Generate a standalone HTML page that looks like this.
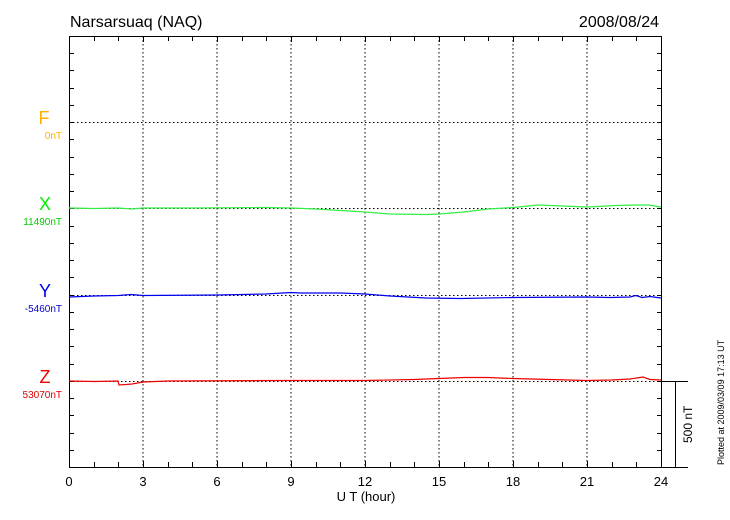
<!DOCTYPE html>
<html><head><meta charset="utf-8"><style>
body{margin:0;background:#fff;}
svg{display:block;font-family:"Liberation Sans",sans-serif;}
</style></head><body>
<svg width="730" height="520" viewBox="0 0 730 520">
<rect width="730" height="520" fill="#fff"/>
<text x="70" y="27" font-size="16">Narsarsuaq (NAQ)</text>
<text x="659" y="27" font-size="16" text-anchor="end">2008/08/24</text>
<g stroke="#000" stroke-width="1" stroke-dasharray="1.5,2.5" fill="none">
<line x1="143" y1="36" x2="143" y2="467"/><line x1="217" y1="36" x2="217" y2="467"/>
<line x1="291" y1="36" x2="291" y2="467"/><line x1="365" y1="36" x2="365" y2="467"/>
<line x1="439" y1="36" x2="439" y2="467"/><line x1="513" y1="36" x2="513" y2="467"/>
<line x1="587" y1="36" x2="587" y2="467"/>
<line x1="69" y1="122.5" x2="662" y2="122.5"/><line x1="69" y1="208.5" x2="662" y2="208.5"/>
<line x1="69" y1="295.5" x2="662" y2="295.5"/><line x1="69" y1="381.5" x2="662" y2="381.5"/>
</g>
<g id="ticks" stroke="#000" stroke-width="1">
<path d="M69.5,36 V467 M661.5,36 V467 M69,467.5 H688 M69,36.5 H662 M662,381.5 H688 M675.5,381 V467"/>
<path d="M69,53.5h5M69,70.5h5M69,88.5h5M69,105.5h5M69,122.5h5M69,139.5h5M69,157.5h5M69,174.5h5M69,191.5h5M69,208.5h5M69,226.5h5M69,243.5h5M69,260.5h5M69,277.5h5M69,295.5h5M69,312.5h5M69,329.5h5M69,346.5h5M69,364.5h5M69,381.5h5M69,398.5h5M69,415.5h5M69,433.5h5M69,450.5h5"/>
<path d="M662,53.5h-5M662,70.5h-5M662,88.5h-5M662,105.5h-5M662,122.5h-5M662,139.5h-5M662,157.5h-5M662,174.5h-5M662,191.5h-5M662,208.5h-5M662,226.5h-5M662,243.5h-5M662,260.5h-5M662,277.5h-5M662,295.5h-5M662,312.5h-5M662,329.5h-5M662,346.5h-5M662,364.5h-5M662,381.5h-5M662,398.5h-5M662,415.5h-5M662,433.5h-5M662,450.5h-5"/>
</g>
<g stroke="#000" stroke-width="1" id="xt"></g>
<g font-size="13" text-anchor="middle">
<text x="69" y="486">0</text><text x="143" y="486">3</text><text x="217" y="486">6</text>
<text x="291" y="486">9</text><text x="365" y="486">12</text><text x="439" y="486">15</text>
<text x="513" y="486">18</text><text x="587" y="486">21</text><text x="661" y="486">24</text>
<text x="366" y="501">U T (hour)</text>
</g>
<text x="44" y="124" font-size="18" fill="#ffb000" text-anchor="middle">F</text>
<text x="62" y="139" font-size="10" fill="#ffb000" text-anchor="end">0nT</text>
<text x="45" y="210" font-size="18" fill="#00ee00" text-anchor="middle">X</text>
<text x="62" y="225" font-size="10" fill="#00cc00" text-anchor="end">11490nT</text>
<text x="45" y="297" font-size="18" fill="#0000ee" text-anchor="middle">Y</text>
<text x="62" y="312" font-size="10" fill="#0000cc" text-anchor="end">-5460nT</text>
<text x="45" y="383" font-size="18" fill="#ee0000" text-anchor="middle">Z</text>
<text x="62" y="398" font-size="10" fill="#dd0000" text-anchor="end">53070nT</text>
<text transform="translate(692,443) rotate(-90)" font-size="12">500 nT</text>
<text transform="translate(724,465) rotate(-90)" font-size="9">Plotted at 2009/03/09 17:13 UT</text>
<polyline fill="none" stroke="#33ee44" stroke-width="1.2" points="69,208 94,208.5 118,208 131,209 143,208 193,208 266,207.5 291,208 316,209 365,212 390,214 426,214.5 439,214 464,212 488,209 513,207.5 538,205 587,207 616,205.5 636,205 649,205 661,207"/>
<polyline fill="none" stroke="#0000ee" stroke-width="1.2" points="69,297 94,296 118,295.5 131,294.5 143,295.5 217,295 266,294 291,292.5 300,293 340,293 365,294 390,296 426,298 460,298.5 513,297.5 587,297 610,297.5 630,297 636,295.5 642,297.5 650,296.5 661,298"/>
<polyline fill="none" stroke="#ee0000" stroke-width="1.2" points="69,381 94,381.5 118,381 119,385 132,384 143,382 168,381 291,380.5 365,380.5 414,379.5 439,378.5 464,377.5 488,377.5 513,378.5 587,380.5 612,380 630,379 643,377 650,379.5 661,380"/>
<path stroke="#000" d="M94.5,467v-5M118.5,467v-5M143.5,467v-6M168.5,467v-5M192.5,467v-5M217.5,467v-6M242.5,467v-5M266.5,467v-5M291.5,467v-6M316.5,467v-5M340.5,467v-5M365.5,467v-6M390.5,467v-5M414.5,467v-5M439.5,467v-6M464.5,467v-5M488.5,467v-5M513.5,467v-6M538.5,467v-5M562.5,467v-5M587.5,467v-6M612.5,467v-5M636.5,467v-5M94.5,36v5M118.5,36v5M143.5,36v6M168.5,36v5M192.5,36v5M217.5,36v6M242.5,36v5M266.5,36v5M291.5,36v6M316.5,36v5M340.5,36v5M365.5,36v6M390.5,36v5M414.5,36v5M439.5,36v6M464.5,36v5M488.5,36v5M513.5,36v6M538.5,36v5M562.5,36v5M587.5,36v6M612.5,36v5M636.5,36v5"/>
</svg>
</body></html>
